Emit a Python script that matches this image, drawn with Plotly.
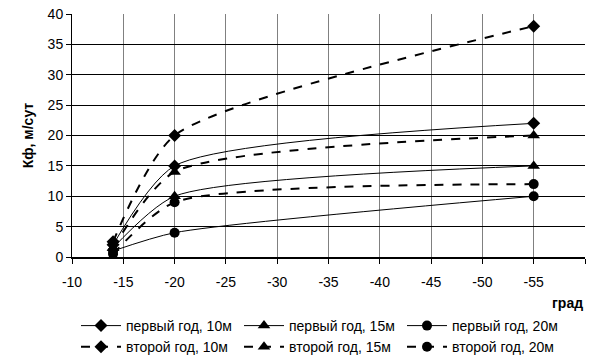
import plotly.graph_objects as go

x_vals = [-14, -20, -55]
names = ["первый год, 10м", "первый год, 15м", "первый год, 20м",
         "второй год, 10м", "второй год, 15м", "второй год, 20м"]
y1_10 = [2, 15, 22]
y1_15 = [1.5, 10, 15]
y1_20 = [1, 4, 10]
y2_10 = [2.5, 20, 38]
y2_15 = [1.5, 14, 20]
y2_20 = [0.5, 9, 12]
series = [y1_10, y1_15, y1_20, y2_10, y2_15, y2_20]
symbols = ["diamond", "triangle-up", "circle", "diamond", "triangle-up", "circle"]
sizes = [10, 11, 10, 10, 11, 10]
x_ticks = list(range(-10, -61, -5))
x_tick_text = [str(v) for v in x_ticks]

fig = go.Figure()
for i, (nm, ys) in enumerate(zip(names, series)):
    second = i >= 3
    fig.add_trace(go.Scatter(
        x=x_vals, y=ys, name=nm, mode="lines+markers",
        line=dict(color="black", width=2 if second else 1,
                  dash="dash" if second else "solid",
                  shape="spline", smoothing=0.65),
        marker=dict(symbol=symbols[i], size=sizes[i], color="black"),
    ))

fig.update_layout(
    width=594, height=356,
    margin=dict(l=72, r=9, t=14, b=99, autoexpand=False),
    paper_bgcolor="white", plot_bgcolor="white",
    font=dict(family="Liberation Sans, Arial, sans-serif", size=14, color="black"),
    showlegend=True,
    legend=dict(orientation="h", xref="container", yref="container",
                x=76 / 594, xanchor="left", y=(356 - 310) / 356, yanchor="top",
                entrywidth=108, entrywidthmode="pixels",
                font=dict(size=14), tracegroupgap=0, itemwidth=40,
                bgcolor="rgba(0,0,0,0)"),
    annotations=[dict(text="<b>град</b>", xref="paper", yref="paper",
                      x=1.0, y=-0.19, xanchor="right", yanchor="middle",
                      showarrow=False, font=dict(size=14))],
)
fig.update_xaxes(
    range=[-10, -60], tickmode="array", tickvals=x_ticks, ticktext=x_tick_text,
    showgrid=True, gridcolor="#808080", gridwidth=1,
    ticks="outside", ticklen=5, tickcolor="black", ticklabelstandoff=6,
    showline=True, linecolor="black", linewidth=1.5, mirror=False,
    zeroline=False, automargin=False,
)
fig.update_yaxes(
    range=[0, 40], tickmode="linear", tick0=0, dtick=5,
    showgrid=True, gridcolor="black", gridwidth=1,
    ticks="outside", ticklen=5, tickcolor="black",
    showline=True, linecolor="black", linewidth=1,
    zeroline=False, automargin=False,
    title=dict(text="<b>Кф, м/сут</b>", font=dict(size=14), standoff=10),
)

fig.write_html("out.html", config={"displayModeBar": False},
               post_script="document.body.style.margin='0';")
